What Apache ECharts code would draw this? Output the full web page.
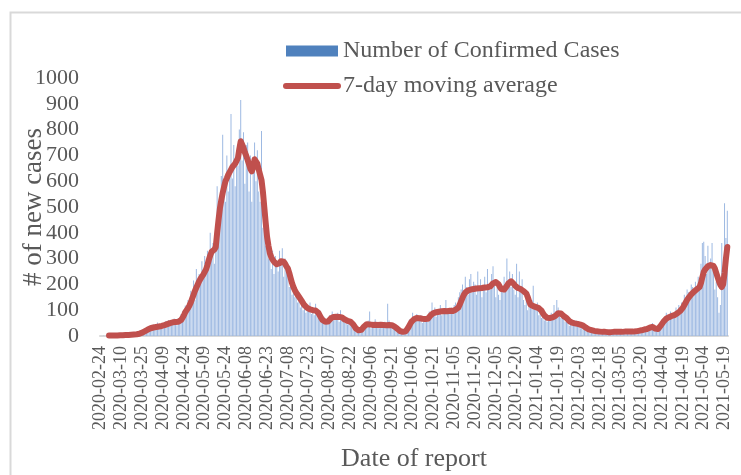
<!DOCTYPE html>
<html>
<head>
<meta charset="utf-8">
<script src="https://cdn.jsdelivr.net/npm/echarts@6/dist/echarts.min.js"></script>
<style>
  html, body { margin: 0; padding: 0; background: #fff; }
  #chart { width: 741px; height: 475px; }
</style>
</head>
<body>
<div id="chart"></div>
<script>
const startDate = '2020-02-24';
const dayCount = 453;

const yTicks = [0, 100, 200, 300, 400, 500, 600, 700, 800, 900, 1000];

// daily confirmed cases
const dailyCases = [
  0, 0, 1, 0, 2, 3, 2, 1, 2, 4,
  1, 3, 2, 5, 2, 4, 3, 1, 6, 4,
  5, 3, 8, 6, 4, 9, 12, 10, 7, 16,
  12, 22, 18, 28, 35, 24, 40, 30, 45, 28,
  38, 52, 30, 44, 36, 50, 41, 58, 35, 62,
  48, 60, 45, 68, 50, 42, 70, 55, 85, 96,
  70, 118, 95, 140, 110, 175, 160, 215, 140, 260,
  190, 240, 210, 290, 225, 310, 250, 330, 280, 400,
  300, 360, 280, 420, 580, 510, 430, 620, 780, 550,
  520, 700, 560, 620, 860, 610, 740, 580, 690, 660,
  800, 915, 680, 790, 590, 740, 750, 560, 700, 520,
  680, 750, 600, 720, 560, 520, 795, 420, 480, 350,
  380, 300, 350, 260, 330, 240, 310, 270, 250, 330,
  280, 340, 230, 300, 250, 280, 190, 220, 160, 200,
  150, 190, 130, 170, 110, 140, 100, 130, 90, 120,
  95, 130, 85, 110, 80, 125, 90, 70, 100, 60,
  50, 75, 45, 60, 55, 80, 70, 95, 60, 85,
  70, 90, 55, 100, 60, 80, 50, 75, 45, 60,
  65, 40, 55, 30, 45, 20, 30, 15, 25, 20,
  35, 50, 40, 60, 95, 30, 55, 40, 65, 35,
  50, 30, 45, 40, 35, 55, 45, 125, 60, 40,
  45, 35, 40, 20, 25, 15, 20, 10, 15, 20,
  25, 40, 50, 65, 55, 90, 70, 60, 85, 75,
  60, 80, 50, 75, 65, 70, 55, 95, 80, 130,
  85, 110, 75, 100, 90, 120, 80, 105, 95, 140,
  90, 100, 85, 110, 95, 120, 130, 110, 150, 170,
  180, 200, 150, 230, 190, 160, 220, 240, 170, 210,
  200, 160, 250, 180, 220, 150, 190, 230, 170, 260,
  200, 180, 240, 270, 210, 150, 190, 160, 140, 200,
  170, 230, 190, 300, 220, 250, 190, 240, 180, 160,
  280, 150, 250, 170, 220, 140, 120, 160, 100, 130,
  110, 140, 195, 120, 105, 130, 80, 100, 70, 90,
  60, 85, 55, 75, 65, 90, 70, 120, 95, 140,
  110, 85, 70, 90, 65, 55, 75, 50, 40, 60,
  45, 55, 40, 60, 35, 50, 30, 40, 25, 35,
  20, 30, 15, 25, 18, 12, 20, 15, 10, 18,
  14, 20, 12, 18, 15, 10, 17, 14, 16, 13,
  18, 12, 20, 15, 17, 22, 14, 19, 16, 20,
  15, 22, 18, 20, 25, 17, 23, 20, 28, 18,
  26, 20, 30, 24, 35, 28, 40, 30, 50, 25,
  30, 20, 35, 45, 55, 40, 70, 60, 90, 80,
  60, 95, 75, 85, 70, 110, 90, 120, 100, 130,
  120, 160, 140, 180, 170, 150, 200, 190, 170, 210,
  180, 230, 200, 280, 360, 365, 310, 240, 350, 280,
  300, 360, 260, 180, 210, 150, 90, 120, 360, 250,
  515, 380, 485
];

// 7-day moving average (first 6 days have none)
const movingAverage = [
  null, null, null, null, null, null, 2, 2, 2, 2,
  2, 2, 2, 3, 3, 3, 3, 3, 4, 4,
  4, 5, 5, 5, 6, 6, 7, 8, 9, 11,
  13, 16, 19, 22, 25, 28, 30, 32, 33, 34,
  35, 36, 37, 38, 39, 40, 42, 44, 46, 48,
  50, 52, 53, 54, 54, 55, 55, 57, 62, 70,
  80, 92, 100, 108, 118, 130, 145, 160, 175, 188,
  200, 212, 222, 230, 238, 245, 258, 275, 295, 312,
  326, 332, 335, 345, 400, 450, 495, 527, 555, 578,
  600, 612, 625, 635, 645, 655, 662, 668, 675, 690,
  725, 755, 748, 730, 712, 698, 682, 665, 648, 638,
  655, 685, 690, 668, 645, 625, 605, 560, 500, 440,
  385, 350, 322, 306, 296, 288, 282, 278, 276, 282,
  290, 294, 288, 280, 270, 262, 245, 225, 205, 190,
  178, 168, 160, 152, 145, 136, 127, 119, 113, 109,
  106, 103, 101, 100, 100, 99, 96, 90, 80, 70,
  62, 57, 55, 54, 56, 62, 68, 72, 74, 75,
  75, 74, 74, 74, 72, 68, 64, 61, 59, 58,
  56, 52, 46, 38, 30, 25, 22, 22, 24, 30,
  37, 43, 46, 46, 45, 44, 43, 43, 44, 44,
  43, 43, 44, 44, 43, 42, 42, 43, 43, 42,
  42, 40, 36, 32, 28, 23, 19, 17, 16, 16,
  18, 24, 34, 44, 54, 60, 65, 68, 70, 70,
  69, 68, 67, 66, 66, 66, 67, 72, 80, 86,
  89, 91, 92, 93, 94, 95, 96, 97, 97, 96,
  96, 97, 98, 97, 97, 99, 102, 106, 110, 122,
  135, 148, 160, 168, 174, 177, 179, 180, 181, 182,
  183, 184, 184, 185, 186, 186, 187, 188, 188, 189,
  190, 192, 198, 204, 208, 209, 207, 200, 190, 182,
  178, 180, 186, 194, 203, 210, 212, 210, 202, 194,
  189, 186, 184, 182, 178, 174, 171, 165, 152, 135,
  122, 118, 116, 114, 112, 110, 108, 106, 98, 88,
  80, 74, 71, 70, 70, 71, 72, 74, 78, 84,
  88, 89, 87, 82, 77, 74, 70, 64, 58, 54,
  52, 50, 49, 48, 47, 45, 44, 43, 40, 36,
  32, 28, 26, 24, 23, 21, 20, 19, 18, 17,
  17, 16, 16, 16, 16, 16, 15, 15, 15, 15,
  16, 16, 16, 16, 16, 16, 16, 16, 17, 17,
  17, 17, 17, 17, 17, 18, 18, 19, 20, 21,
  22, 23, 25, 26, 27, 29, 32, 34, 35, 32,
  29, 27, 27, 32, 40, 48, 56, 62, 67, 70,
  73, 76, 78, 80, 81, 84, 88, 93, 97, 101,
  110, 120, 130, 140, 148, 155, 161, 167, 172, 176,
  181, 185, 190, 205, 228, 248, 258, 265, 270, 273,
  275, 276, 272, 262, 245, 228, 212, 198, 190, 200,
  244, 300, 345
];

// one category per day of report
const dates = [];
const first = new Date(startDate + 'T00:00:00Z');
for (let i = 0; i < dayCount; i++) {
  const d = new Date(first.getTime() + i * 86400000);
  dates.push(d.toISOString().slice(0, 10));
}

const font = 'Liberation Serif';
const textColor = '#595959';
const red = '#C0504D';

echarts.init(document.getElementById('chart'), null, {
  renderer: 'canvas',
  width: 741,
  height: 475,
}).setOption({
  animation: false,
  backgroundColor: '#fff',
  graphic: [{
    type: 'rect',
    left: 8,
    top: 10,
    silent: true,
    z: -10,
    shape: { width: 800, height: 600 },
    style: { fill: 'none', stroke: '#D9D9D9', lineWidth: 2 },
  }],
  grid: {
    left: 100,
    right: 13,
    top: 78,
    bottom: 139,
    containLabel: false,
    outerBoundsMode: 'none',
  },
  legend: {
    orient: 'vertical',
    left: 278,
    top: 34,
    itemWidth: 52,
    itemHeight: 11,
    itemGap: 11,
    selectedMode: false,
    textStyle: {
      fontFamily: font,
      fontSize: 24,
      lineHeight: 24,
      color: textColor,
    },
    data: [
      { name: 'Number of Confirmed Cases', icon: 'rect', itemStyle: { color: '#4F81BD' } },
      {
        name: '7-day moving average',
        itemStyle: { opacity: 0 },
        lineStyle: { color: red, width: 6, cap: 'round' },
      },
    ],
  },
  xAxis: {
    type: 'category',
    data: dates,
    name: 'Date of report',
    nameLocation: 'middle',
    nameGap: 110,
    nameMoveOverlap: false,
    nameTextStyle: {
      fontFamily: font,
      fontSize: 26,
      color: textColor,
    },
    axisLine: { lineStyle: { color: '#D9D9D9', width: 2 } },
    axisTick: { show: false },
    axisLabel: {
      interval: 14,
      rotate: 90,
      margin: 10,
      fontFamily: font,
      fontSize: 18,
      color: textColor,
    },
  },
  yAxis: {
    type: 'value',
    min: yTicks[0],
    max: yTicks[yTicks.length - 1],
    interval: 100,
    name: '# of new cases',
    nameLocation: 'middle',
    nameGap: 53,
    nameMoveOverlap: false,
    nameTextStyle: {
      fontFamily: font,
      fontSize: 27,
      color: textColor,
    },
    axisLine: { show: false },
    axisTick: { show: false },
    splitLine: { show: false },
    axisLabel: {
      margin: 21,
      fontFamily: font,
      fontSize: 22,
      color: textColor,
      formatter: (v) => String(v),
    },
  },
  series: [{
    name: 'Number of Confirmed Cases',
    type: 'bar',
    data: dailyCases,
    barCategoryGap: '40%',
    itemStyle: { color: '#9DB9E2' },
  }, {
    name: '7-day moving average',
    type: 'line',
    data: movingAverage,
    symbol: 'none',
    lineStyle: { color: red, width: 6, cap: 'round', join: 'round' },
    itemStyle: { color: red },
  }],
});
</script>
</body>
</html>
